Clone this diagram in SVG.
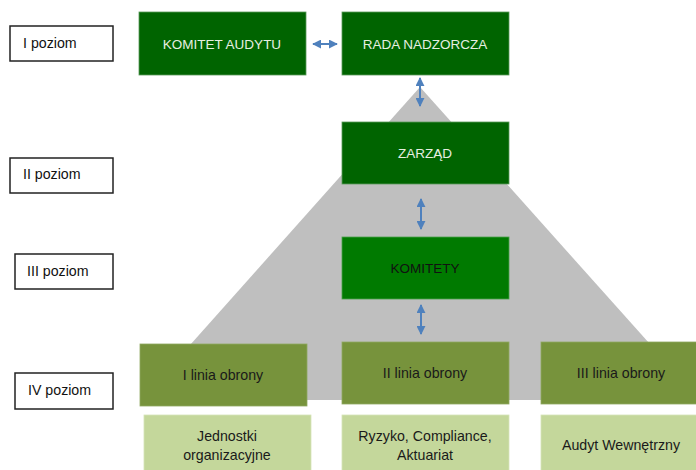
<svg xmlns="http://www.w3.org/2000/svg" width="696" height="470" viewBox="0 0 696 470">
<style>
text{font-family:"Liberation Sans",Arial,sans-serif;font-size:14.2px}
.lvl rect{fill:#fff;stroke:#222;stroke-width:1.5}
.lvl text{fill:#111}
.dk rect{fill:#006400;stroke:#5a9a5a;stroke-width:0.8}
.dk text{fill:#e6efe0;text-anchor:middle;font-size:13.5px}
.md rect{fill:#007a00;stroke:#4aa04a;stroke-width:0.8}
.md text{fill:#111;text-anchor:middle;font-size:13.5px}
.ln rect{fill:#77933c;stroke:#8fa860;stroke-width:0.8}
.ln text{fill:#1a1a1a;text-anchor:middle}
.lt rect{fill:#c4d79b;stroke:#d6e4b8;stroke-width:0.8}
.lt text{fill:#1a1a1a;text-anchor:middle}
.conn line{stroke:#4f81bd;stroke-width:2;marker-start:url(#ah);marker-end:url(#ah)}
</style>
<defs>
<marker id="ah" viewBox="0 0 10 10" refX="9" refY="5" markerWidth="4.5" markerHeight="4.5" orient="auto-start-reverse" markerUnits="strokeWidth">
<path d="M0,0 L10,5 L0,10 Z" fill="#4f81bd"/>
</marker>
</defs>
<rect width="696" height="470" fill="#fff"/>
<polygon id="pyramid" points="420,87 141,400 700,400" fill="#bfbfbf"/>
<g id="lvl1" class="lvl"><rect x="10" y="26" width="103" height="35"/><text x="23" y="48">I poziom</text></g>
<g id="lvl2" class="lvl"><rect x="10" y="158" width="103" height="35"/><text x="23" y="179">II poziom</text></g>
<g id="lvl3" class="lvl"><rect x="15" y="254" width="98" height="35"/><text x="27" y="276">III poziom</text></g>
<g id="lvl4" class="lvl"><rect x="15" y="373" width="98" height="36"/><text x="28" y="395">IV poziom</text></g>
<g id="komitet-audytu" class="dk"><rect x="139" y="12" width="167" height="63"/><text x="222" y="49">KOMITET AUDYTU</text></g>
<g id="rada" class="dk"><rect x="342" y="12" width="167" height="63"/><text x="425" y="49">RADA NADZORCZA</text></g>
<g id="zarzad" class="dk"><rect x="342" y="122" width="167" height="62"/><text x="425" y="158">ZARZĄD</text></g>
<g id="komitety" class="md"><rect x="342" y="237" width="167" height="62"/><text x="425" y="273">KOMITETY</text></g>
<g id="linia1" class="ln"><rect x="140" y="344" width="167" height="62"/><text x="223" y="380">I linia obrony</text></g>
<g id="linia2" class="ln"><rect x="342" y="342" width="167" height="62"/><text x="425" y="378">II linia obrony</text></g>
<g id="linia3" class="ln"><rect x="541" y="342" width="160" height="62"/><text x="621" y="378">III linia obrony</text></g>
<g id="jednostki" class="lt"><rect x="144" y="415" width="167" height="60"/><text x="227" y="441">Jednostki</text><text x="227" y="460">organizacyjne</text></g>
<g id="ryzyko" class="lt"><rect x="342" y="415" width="167" height="60"/><text x="425" y="441">Ryzyko, Compliance,</text><text x="425" y="460">Aktuariat</text></g>
<g id="audyt" class="lt"><rect x="541" y="415" width="160" height="60"/><text x="621" y="450">Audyt Wewnętrzny</text></g>
<g id="connectors" class="conn">
<line x1="313" y1="44" x2="337" y2="44"/>
<line x1="420" y1="78" x2="420" y2="106"/>
<line x1="421" y1="199" x2="421" y2="229"/>
<line x1="421" y1="305" x2="421" y2="334"/>
</g>
</svg>
